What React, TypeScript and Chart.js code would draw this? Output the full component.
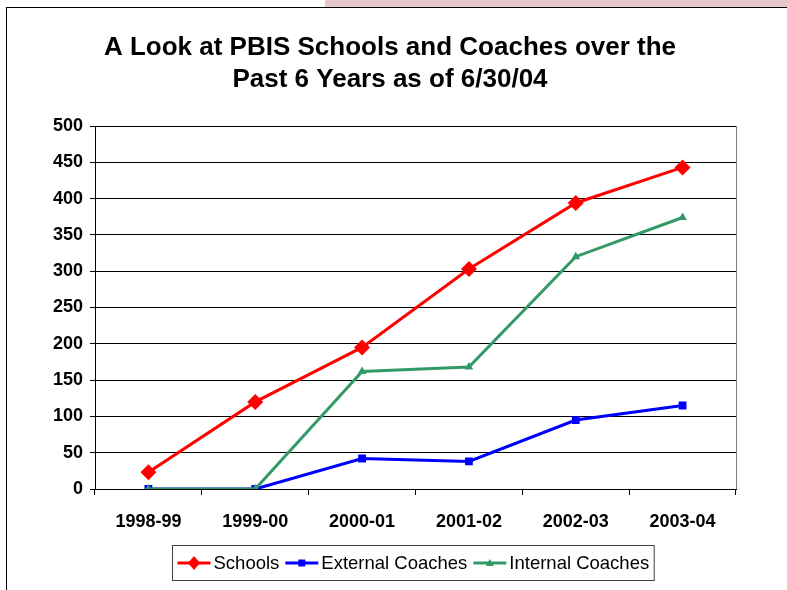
import { useEffect, useRef } from 'react';
import { Chart, registerables } from 'chart.js';

Chart.register(...registerables);

const categories = ['1998-99', '1999-00', '2000-01', '2001-02', '2002-03', '2003-04'];
const schools = [23, 120, 195, 303, 394, 443];
const externalCoaches = [0, 0, 42, 38, 95, 115];
const internalCoaches = [0, 0, 162, 168, 320, 374];
const titleLines = ['A Look at PBIS Schools and Coaches over the', 'Past 6 Years as of 6/30/04'];
const yMin = 0;
const yMax = 500;
const yStep = 50;

const FONT = "'Liberation Sans', Arial, sans-serif";

const frameLegend = {
  id: 'frameLegend',
  beforeDatasetsDraw(chart: any) {
    const { ctx, chartArea } = chart;
    ctx.save();
    ctx.strokeStyle = '#808080';
    ctx.lineWidth = 1;
    ctx.beginPath();
    ctx.moveTo(Math.round(chartArea.right) + 0.5, chartArea.top);
    ctx.lineTo(Math.round(chartArea.right) + 0.5, chartArea.bottom);
    ctx.stroke();
    ctx.restore();
  },
  afterDraw(chart: any) {
    const { ctx, chartArea } = chart;
    const ds = chart.data.datasets;
    ctx.save();
    ctx.font = `normal 18.5px ${FONT}`;
    const lineLen = 33;
    const gapLineText = 3;
    const gapItems = 6;
    const pad = 5;
    const widths = ds.map((d: any) => ctx.measureText(d.label).width);
    let total = pad * 2;
    widths.forEach((w: number, i: number) => {
      total += lineLen + gapLineText + w;
      if (i < widths.length - 1) total += gapItems;
    });
    const cx = (chartArea.left + chartArea.right) / 2 - 3;
    const boxLeft = Math.round(cx - total / 2) + 0.5;
    const boxTop = chartArea.bottom + 56.5;
    const boxH = 35;
    ctx.fillStyle = '#ffffff';
    ctx.fillRect(boxLeft, boxTop, total, boxH);
    ctx.strokeStyle = '#404040';
    ctx.lineWidth = 1;
    ctx.strokeRect(boxLeft, boxTop, total, boxH);
    const cy = boxTop + boxH / 2;
    let x = boxLeft + pad;
    ds.forEach((d: any, i: number) => {
      ctx.strokeStyle = d.borderColor;
      ctx.fillStyle = d.borderColor;
      ctx.lineWidth = 3;
      ctx.beginPath();
      ctx.moveTo(x, cy);
      ctx.lineTo(x + lineLen, cy);
      ctx.stroke();
      const mx = x + lineLen / 2;
      ctx.beginPath();
      if (d.pointStyle === 'rectRot') {
        ctx.moveTo(mx, cy - 7);
        ctx.lineTo(mx + 6, cy);
        ctx.lineTo(mx, cy + 7);
        ctx.lineTo(mx - 6, cy);
      } else if (d.pointStyle === 'rect') {
        ctx.rect(mx - 3.5, cy - 3.5, 7, 7);
      } else {
        ctx.moveTo(mx, cy - 4);
        ctx.lineTo(mx + 4, cy + 3);
        ctx.lineTo(mx - 4, cy + 3);
      }
      ctx.closePath();
      ctx.fill();
      x += lineLen + gapLineText;
      ctx.fillStyle = '#000000';
      ctx.textBaseline = 'middle';
      ctx.textAlign = 'left';
      ctx.fillText(d.label, x, cy + 1);
      x += widths[i] + gapItems;
    });
    ctx.restore();
  },
};

export default function App() {
  const ref = useRef<HTMLCanvasElement | null>(null);

  useEffect(() => {
    if (!ref.current) return;
    const chart = new Chart(ref.current, {
      type: 'line',
      data: {
        labels: categories,
        datasets: [
          {
            label: 'Schools',
            data: schools,
            borderColor: '#ff0000',
            backgroundColor: '#ff0000',
            borderWidth: 3,
            pointStyle: 'rectRot',
            pointRadius: 8,
            pointBorderWidth: 0,
            tension: 0,
            order: 0,
          },
          {
            label: 'External Coaches',
            data: externalCoaches,
            borderColor: '#0000ff',
            backgroundColor: '#0000ff',
            borderWidth: 3,
            pointStyle: 'rect',
            pointRadius: 5.5,
            pointBorderWidth: 0,
            tension: 0,
            order: 2,
          },
          {
            label: 'Internal Coaches',
            data: internalCoaches,
            borderColor: '#339966',
            backgroundColor: '#339966',
            borderWidth: 3,
            pointStyle: 'triangle',
            pointRadius: 5,
            pointBorderWidth: 0,
            tension: 0,
            order: 1,
          },
        ],
      },
      options: {
        animation: false,
        responsive: false,
        devicePixelRatio: 1,
        layout: { padding: { left: 44, right: 51, top: 0, bottom: 0 } },
        plugins: {
          legend: { display: false },
          tooltip: { enabled: false },
          title: {
            display: true,
            text: titleLines,
            color: '#000000',
            font: { family: FONT, size: 26, weight: 'bold', lineHeight: '32px' },
            padding: { top: 32, bottom: 30 },
          },
        },
        scales: {
          x: {
            type: 'category',
            offset: true,
            grid: {
              offset: true,
              drawOnChartArea: false,
              drawTicks: true,
              tickLength: 6,
              color: '#000000',
            },
            border: { color: '#000000', width: 1 },
            ticks: {
              color: '#000000',
              font: { family: FONT, size: 18, weight: 'bold' },
              padding: 16,
              maxRotation: 0,
              autoSkip: false,
            },
            afterFit: (s: any) => {
              s.height = 101;
            },
          },
          y: {
            min: yMin,
            max: yMax,
            ticks: {
              stepSize: yStep,
              color: '#000000',
              font: { family: FONT, size: 18, weight: 'bold' },
              padding: 7,
            },
            grid: { color: '#000000', tickLength: 5 },
            border: { color: '#000000', width: 1 },
            afterFit: (s: any) => {
              s.width = 51;
            },
          },
        },
      },
      plugins: [frameLegend],
    });
    return () => chart.destroy();
  }, []);

  return (
    <div
      style={{
        position: 'fixed',
        left: 0,
        top: 0,
        width: 787,
        height: 590,
        overflow: 'hidden',
        background: '#ffffff',
      }}
    >
      <div
        style={{
          position: 'absolute',
          left: 325,
          top: 0,
          width: 462,
          height: 7,
          background: '#e8c8cc',
        }}
      />
      <div
        style={{
          position: 'absolute',
          left: 6,
          top: 7,
          width: 900,
          height: 700,
          borderLeft: '1px solid #000',
          borderTop: '1px solid #000',
        }}
      />
      <canvas
        ref={ref}
        width={787}
        height={590}
        style={{ position: 'absolute', left: 0, top: 0 }}
      />
    </div>
  );
}
